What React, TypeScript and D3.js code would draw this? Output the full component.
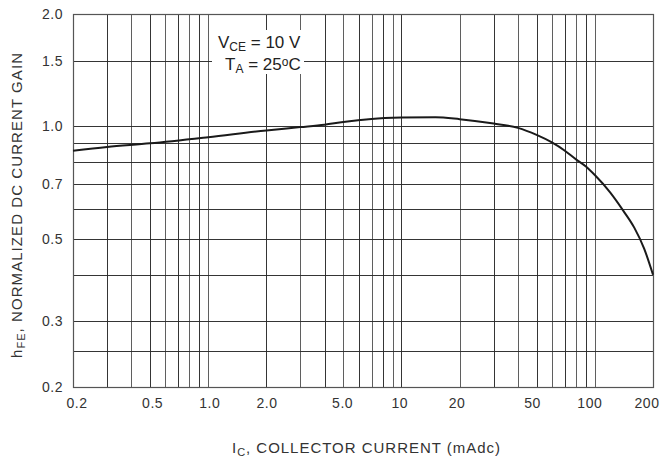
import React, { useRef, useEffect } from 'react';
import * as d3 from 'd3';

// collector current (mAdc) and normalized hFE
const currentMa = [0.2, 0.3, 0.5, 1, 2, 3, 4, 5, 7, 10, 15, 20, 30, 40, 50, 60, 70, 80, 90, 100, 120, 140, 160, 180, 200];
const gainNorm = [0.86, 0.88, 0.9, 0.935, 0.975, 0.995, 1.01, 1.027, 1.046, 1.055, 1.058, 1.045, 1.017, 0.99, 0.948, 0.905, 0.86, 0.815, 0.78, 0.74, 0.665, 0.595, 0.535, 0.47, 0.4];

const xTicks = [0.2, 0.5, 1, 2, 5, 10, 20, 50, 100, 200];
const xTickLabels = ['0.2', '0.5', '1.0', '2.0', '5.0', '10', '20', '50', '100', '200'];
const yTicks = [0.2, 0.3, 0.5, 0.7, 1.0, 1.5, 2.0];
const yTickLabels = ['0.2', '0.3', '0.5', '0.7', '1.0', '1.5', '2.0'];

const xGrid = [0.3, 0.4, 0.5, 0.6, 0.7, 0.8, 0.9, 1, 2, 3, 4, 5, 6, 7, 8, 9, 10, 20, 30, 40, 50, 60, 70, 80, 90, 100];
const yGrid = [0.25, 0.3, 0.4, 0.5, 0.6, 0.7, 0.8, 0.9, 1.0, 1.5];

const FONT = "'Liberation Sans', Arial, sans-serif";

const HfeChart = ({ width, height }) => {
  const svgRef = useRef<SVGSVGElement | null>(null);

  useEffect(() => {
    d3.select(svgRef.current).selectAll('*').remove();

    const svg = d3.select(svgRef.current).attr('width', width).attr('height', height);

    const left = 73;
    const right = 653;
    const top = 14;
    const bottom = 387;

    const x = d3.scaleLog().domain([0.2, 200]).range([left, right]);
    const y = d3.scaleLog().domain([0.2, 2.0]).range([bottom, top]);

    svg.append('rect').attr('width', width).attr('height', height).attr('fill', '#fff');

    const grid = svg.append('g').attr('stroke', '#2a2a2a').attr('stroke-width', 1).attr('shape-rendering', 'crispEdges');

    grid
      .selectAll('line.v')
      .data(xGrid)
      .join('line')
      .attr('class', 'v')
      .attr('x1', (d) => Math.round(x(d)) + 0.5)
      .attr('x2', (d) => Math.round(x(d)) + 0.5)
      .attr('y1', top)
      .attr('y2', bottom)
      .attr('stroke-opacity', (d, i) => (i % 2 === 0 ? 0.95 : 0.75));

    grid
      .selectAll('line.h')
      .data(yGrid)
      .join('line')
      .attr('class', 'h')
      .attr('x1', left)
      .attr('x2', right)
      .attr('y1', (d) => Math.round(y(d)) + 0.5)
      .attr('y2', (d) => Math.round(y(d)) + 0.5)
      .attr('stroke-opacity', 0.95);

    // outer frame
    svg
      .append('rect')
      .attr('x', left + 0.5)
      .attr('y', top + 0.5)
      .attr('width', right - left)
      .attr('height', bottom - top)
      .attr('fill', 'none')
      .attr('stroke', '#555')
      .attr('stroke-width', 1.2);

    // condition annotation, on a white patch over the grid
    svg.append('rect').attr('x', 212).attr('y', 30).attr('width', 92).attr('height', 44).attr('fill', '#fff');

    const t1 = svg
      .append('text')
      .attr('x', 218)
      .attr('y', 48)
      .attr('font-family', FONT)
      .attr('font-size', 17)
      .attr('fill', '#222');
    t1.append('tspan').text('V');
    t1.append('tspan').attr('font-size', 12).attr('dy', 3).text('CE');
    t1.append('tspan').attr('dy', -3).text(' = 10 V');

    const t2 = svg
      .append('text')
      .attr('x', 225)
      .attr('y', 70)
      .attr('font-family', FONT)
      .attr('font-size', 17)
      .attr('fill', '#222');
    t2.append('tspan').text('T');
    t2.append('tspan').attr('font-size', 12).attr('dy', 3).text('A');
    t2.append('tspan').attr('dy', -3).text(' = 25');
    t2.append('tspan').attr('font-size', 12).attr('dy', -4).text('o');
    t2.append('tspan').attr('dy', 4).text('C');

    // the curve
    const line = d3
      .line<number>()
      .x((d, i) => x(currentMa[i]))
      .y((d) => y(d))
      .curve(d3.curveMonotoneX);

    svg
      .append('path')
      .attr('d', line(gainNorm))
      .attr('fill', 'none')
      .attr('stroke', '#1a1a1a')
      .attr('stroke-width', 2);

    // tick labels (the printed labels drift slightly inward of their lines)
    svg
      .append('g')
      .selectAll('text')
      .data(xTicks)
      .join('text')
      .attr('x', (d) => x(d) + 4 - (10 * (x(d) - left)) / (right - left))
      .attr('y', 408)
      .attr('text-anchor', 'middle')
      .attr('font-family', FONT)
      .attr('font-size', 14)
      .attr('letter-spacing', 0.5)
      .attr('fill', '#333')
      .text((d, i) => xTickLabels[i]);

    svg
      .append('g')
      .selectAll('text')
      .data(yTicks)
      .join('text')
      .attr('x', 63)
      .attr('y', (d) => y(d) + 5)
      .attr('text-anchor', 'end')
      .attr('font-family', FONT)
      .attr('font-size', 14)
      .attr('letter-spacing', 0.5)
      .attr('fill', '#333')
      .text((d, i) => yTickLabels[i]);

    // axis titles
    const xt = svg
      .append('text')
      .attr('x', 232)
      .attr('y', 453)
      .attr('font-family', FONT)
      .attr('font-size', 15)
      .attr('fill', '#333')
      .attr('textLength', 268)
      .attr('lengthAdjust', 'spacing');
    xt.append('tspan').text('I');
    xt.append('tspan').attr('font-size', 11).attr('dy', 3).text('C');
    xt.append('tspan').attr('dy', -3).text(', COLLECTOR CURRENT (mAdc)');

    const yt = svg
      .append('text')
      .attr('transform', 'translate(22, 358) rotate(-90)')
      .attr('font-family', FONT)
      .attr('font-size', 15)
      .attr('fill', '#333')
      .attr('textLength', 305)
      .attr('lengthAdjust', 'spacing');
    yt.append('tspan').text('h');
    yt.append('tspan').attr('font-size', 11).attr('dy', 3).text('FE');
    yt.append('tspan').attr('dy', -3).text(', NORMALIZED DC CURRENT GAIN');
  }, [width, height]);

  return (
    <div style={{ position: 'absolute', left: 0, top: 0 }}>
      <svg ref={svgRef} style={{ display: 'block' }}></svg>
    </div>
  );
};

export default function App() {
  return <HfeChart width={662} height={462} />;
}
